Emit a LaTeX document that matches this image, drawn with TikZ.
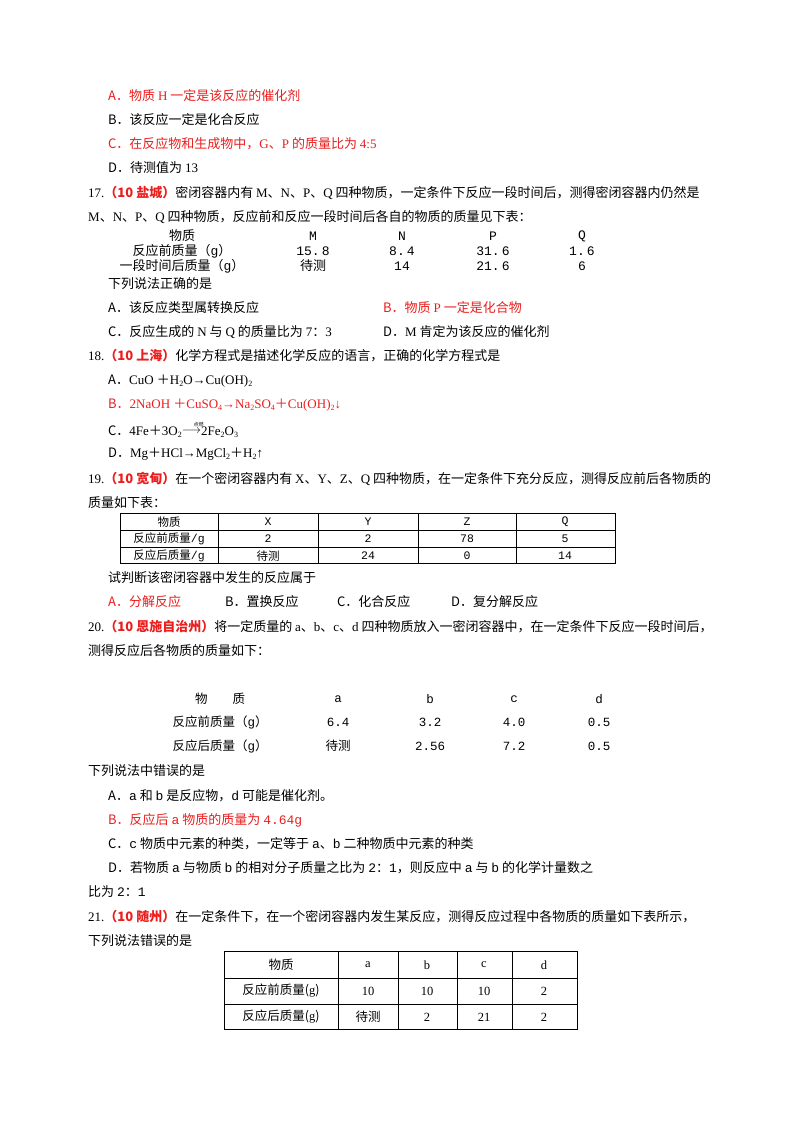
\documentclass[tikz,border=0pt]{standalone}
\usepackage{fontspec}
\usepackage{amsmath}
\setmainfont{Noto Sans CJK SC}
\newfontfamily\cjk{Noto Sans CJK SC}
\newfontfamily\lat{Liberation Serif}
\newfontfamily\mono{Liberation Mono}
\definecolor{red}{RGB}{235,30,30}
\newcommand{\sbx}[1]{\raisebox{-0.35ex}{\fontsize{8}{8}\selectfont #1}}
\newcommand{\pl}{{\cjk ＋}}
\begin{document}
\begin{tikzpicture}[x=1pt,y=-1pt,
  t/.style={anchor=west,inner sep=0pt,font=\fontsize{13}{15}\selectfont},
  c/.style={inner sep=0pt,font=\fontsize{12.5}{15}\selectfont},
  r/.style={text=red}]
\useasboundingbox (0,0) rectangle (800,1132);
\fill[white] (0,0) rectangle (800,1132);
% 16 options
\node[t,r] (a16) at (108,96) {A．物质 {\lat H} 一定是该反应的催化剂};
\node[t] (b16) at (108,120) {B．该反应一定是化合反应};
\node[t,r] (c16) at (108,144) {C．在反应物和生成物中，{\lat G}、{\lat P} 的质量比为 {\lat 4:5}};
\node[t] (d16) at (108,168) {D．待测值为 {\lat 13}};
% 17
\node[t] (q17) at (88,193) {{\lat 17.}{\color{red}\bfseries（10 盐城）}密闭容器内有 {\lat M}、{\lat N}、{\lat P}、{\lat Q} 四种物质，一定条件下反应一段时间后，测得密闭容器内仍然是};
\node[t] (q17b) at (88,217) {{\lat M}、{\lat N}、{\lat P}、{\lat Q} 四种物质，反应前和反应一段时间后各自的物质的质量见下表：};
\foreach \x/\s in {182/物质,313/{\mono M},402/{\mono N},493/{\mono P},582/{\mono Q}}
  \node[c,font=\fontsize{13}{13}\selectfont] at (\x,236) {\s};
\foreach \x/\s in {182/反应前质量（{\mono g}）,313/{\mono 15.\,8},402/{\mono 8.\,4},493/{\mono 31.\,6},582/{\mono 1.\,6}}
  \node[c,font=\fontsize{13}{13}\selectfont] at (\x,251) {\s};
\foreach \x/\s in {182/一段时间后质量（{\mono g}）,313/待测,402/{\mono 14},493/{\mono 21.\,6},582/{\mono 6}}
  \node[c,font=\fontsize{13}{13}\selectfont] at (\x,266) {\s};
\node[t] (s17) at (108,284) {下列说法正确的是};
\node[t] (a17) at (108,308) {A．该反应类型属转换反应};
\node[t,r] (b17) at (383,308) {B．物质 {\lat P} 一定是化合物};
\node[t] (c17) at (108,332) {C．反应生成的 {\lat N} 与 {\lat Q} 的质量比为 {\lat 7}：{\lat 3}};
\node[t] (d17) at (383,332) {D．{\lat M} 肯定为该反应的催化剂};
% 18
\node[t] (q18) at (88,356) {{\lat 18.}{\color{red}\bfseries（10 上海）}化学方程式是描述化学反应的语言，正确的化学方程式是};
\node[t] (a18) at (108,381) {A．{\lat CuO \pl H\sbx{2}O→Cu(OH)\sbx{2}}};
\node[t,r] (b18) at (108,405) {B．{\lat 2NaOH \pl CuSO\sbx{4}→Na\sbx{2}SO\sbx{4}\pl Cu(OH)\sbx{2}↓}};
\node[t] (c18) at (108,430) {C．{\lat 4Fe\pl 3O\sbx{2}}\raisebox{0.3ex}{\rlap{\hspace{0.9em}\raisebox{0.9ex}{\fontsize{5}{5}\selectfont 点燃}}$\longrightarrow$}{\lat 2Fe\sbx{2}O\sbx{3}}};
\node[t] (d18) at (108,454) {D．{\lat Mg\pl HCl→MgCl\sbx{2}\pl H\sbx{2}↑}};
% 19
\node[t] (q19) at (88,479) {{\lat 19.}{\color{red}\bfseries（10 宽甸）}在一个密闭容器内有 {\lat X}、{\lat Y}、{\lat Z}、{\lat Q} 四种物质，在一定条件下充分反应，测得反应前后各物质的};
\node[t] (q19b) at (88,503) {质量如下表：};
\draw[line width=0.8pt] (120,513) rectangle (615,563);
\draw[line width=0.6pt] (120,530) -- (615,530) (120,547) -- (615,547);
\foreach \x in {218,318,418,516} \draw[line width=0.6pt] (\x,513) -- (\x,563);
\foreach \x/\s in {169/物质,268/{\mono X},368/{\mono Y},467/{\mono Z},565/{\mono Q}}
  \node[c,font=\fontsize{11.5}{12}\selectfont] at (\x,522) {\s};
\foreach \x/\s in {169/反应前质量{\mono /g},268/{\mono 2},368/{\mono 2},467/{\mono 78},565/{\mono 5}}
  \node[c,font=\fontsize{11.5}{12}\selectfont] at (\x,539) {\s};
\foreach \x/\s in {169/反应后质量{\mono /g},268/待测,368/{\mono 24},467/{\mono 0},565/{\mono 14}}
  \node[c,font=\fontsize{11.5}{12}\selectfont] at (\x,556) {\s};
\node[t] (s19) at (108,578) {试判断该密闭容器中发生的反应属于};
\node[t,r] (a19) at (108,602) {A．分解反应};
\node[t] (b19) at (225,602) {B．置换反应};
\node[t] (c19) at (337,602) {C．化合反应};
\node[t] (d19) at (451,602) {D．复分解反应};
% 20
\node[t] (q20) at (88,627) {{\lat 20.}{\color{red}\bfseries（10 恩施自治州）}将一定质量的 {\lat a}、{\lat b}、{\lat c}、{\lat d} 四种物质放入一密闭容器中，在一定条件下反应一段时间后，};
\node[t] (q20b) at (88,651) {测得反应后各物质的质量如下：};
\foreach \x/\s in {220/物\hspace{2em}质,338/{\mono a},430/{\mono b},514/{\mono c},599/{\mono d}}
  \node[c] at (\x,699) {\s};
\foreach \x/\s in {220/反应前质量（{\mono g}）,338/{\mono 6.4},430/{\mono 3.2},514/{\mono 4.0},599/{\mono 0.5}}
  \node[c] at (\x,722) {\s};
\foreach \x/\s in {220/反应后质量（{\mono g}）,338/待测,430/{\mono 2.56},514/{\mono 7.2},599/{\mono 0.5}}
  \node[c] at (\x,746) {\s};
\node[t] (s20) at (88,771) {下列说法中错误的是};
\node[t] (a20) at (108,796) {A．{\mono a} 和 {\mono b} 是反应物，{\mono d} 可能是催化剂。};
\node[t,r] (b20) at (108,820) {B．反应后 {\mono a} 物质的质量为 {\mono 4.64g}};
\node[t] (c20) at (108,844) {C．{\mono c} 物质中元素的种类，一定等于 {\mono a}、{\mono b} 二种物质中元素的种类};
\node[t] (d20) at (108,868) {D．若物质 {\mono a} 与物质 {\mono b} 的相对分子质量之比为 {\mono 2}：{\mono 1}，则反应中 {\mono a} 与 {\mono b} 的化学计量数之};
\node[t] (e20) at (88,892) {比为 {\mono 2}：{\mono 1}};
% 21
\node[t] (q21) at (88,917) {{\lat 21.}{\color{red}\bfseries（10 随州）}在一定条件下，在一个密闭容器内发生某反应，测得反应过程中各物质的质量如下表所示，};
\node[t] (q21b) at (88,941) {下列说法错误的是};
\draw[line width=0.8pt] (224,951) rectangle (577,1029);
\draw[line width=0.6pt] (224,978) -- (577,978) (224,1004) -- (577,1004);
\foreach \x in {338,398,457,512} \draw[line width=0.6pt] (\x,951) -- (\x,1029);
\foreach \x/\s in {281/物质,368/{\lat a},427/{\lat b},484/{\lat c},544/{\lat d}}
  \node[c] at (\x,965) {\s};
\foreach \x/\s in {281/反应前质量({\lat g}),368/{\lat 10},427/{\lat 10},484/{\lat 10},544/{\lat 2}}
  \node[c] at (\x,991) {\s};
\foreach \x/\s in {281/反应后质量({\lat g}),368/待测,427/{\lat 2},484/{\lat 21},544/{\lat 2}}
  \node[c] at (\x,1017) {\s};
\end{tikzpicture}
\end{document}
